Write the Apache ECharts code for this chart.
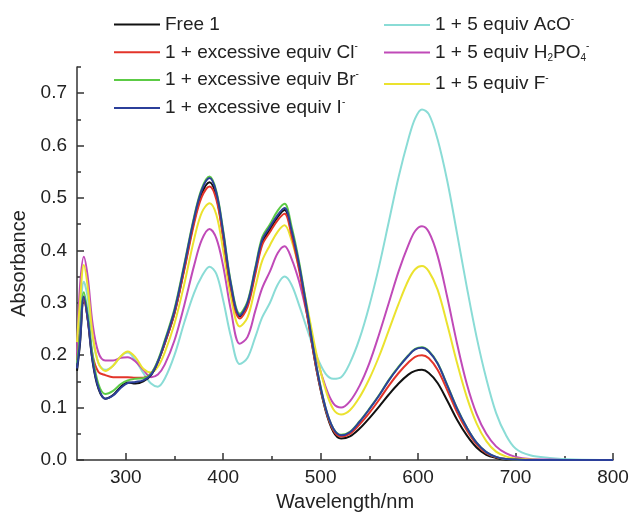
<!DOCTYPE html>
<html>
<head>
<meta charset="utf-8">
<title>Absorbance spectra</title>
<script src="https://cdn.jsdelivr.net/npm/echarts@6/dist/echarts.min.js"></script>
<style>
  html, body { margin: 0; padding: 0; background: #fff; }
  #main { width: 632px; height: 517px; }
</style>
</head>
<body>
<div id="main"></div>
<script>
// wavelengths (nm) shared by every spectrum
var wl = [250, 253, 257, 261, 266, 272, 279, 287, 295, 302,
  310, 318, 326, 333, 340, 350, 360, 370, 378, 386,
  393, 400, 408, 417, 425, 433, 440, 448, 456, 463,
  470, 478, 487, 496, 505, 513, 521, 530, 540, 550,
  560, 570, 580, 590, 597, 604, 611, 620, 630, 640,
  650, 660, 670, 680, 690, 700, 715, 735, 760, 800];

var free1 = [0.17, 0.22, 0.31, 0.268, 0.188, 0.136, 0.117, 0.124, 0.14, 0.148,
  0.146, 0.15, 0.162, 0.187, 0.222, 0.28, 0.365, 0.455, 0.508, 0.53,
  0.503, 0.428, 0.33, 0.274, 0.297, 0.36, 0.415, 0.44, 0.464, 0.477,
  0.437, 0.368, 0.27, 0.17, 0.095, 0.054, 0.041, 0.045, 0.06, 0.08,
  0.102, 0.125, 0.146, 0.163, 0.17, 0.172, 0.166, 0.147, 0.113, 0.077,
  0.047, 0.024, 0.01, 0.004, 0.001, 0, 0, 0, 0, 0];

var withCl = [0.19, 0.24, 0.31, 0.27, 0.2, 0.168, 0.162, 0.158, 0.158, 0.158,
  0.157, 0.157, 0.165, 0.188, 0.222, 0.28, 0.362, 0.45, 0.502, 0.522,
  0.497, 0.425, 0.328, 0.27, 0.292, 0.355, 0.41, 0.435, 0.458, 0.47,
  0.43, 0.362, 0.267, 0.17, 0.097, 0.057, 0.045, 0.05, 0.068, 0.09,
  0.115, 0.142, 0.166, 0.186, 0.197, 0.2, 0.194, 0.172, 0.133, 0.091,
  0.057, 0.03, 0.013, 0.005, 0.002, 0.001, 0, 0, 0, 0];

var withBr = [0.185, 0.24, 0.32, 0.28, 0.2, 0.145, 0.126, 0.132, 0.145, 0.152,
  0.155, 0.156, 0.165, 0.19, 0.228, 0.288, 0.373, 0.463, 0.518, 0.541,
  0.513, 0.438, 0.338, 0.279, 0.303, 0.368, 0.425, 0.45, 0.476, 0.489,
  0.447, 0.377, 0.278, 0.177, 0.1, 0.06, 0.048, 0.054, 0.074, 0.098,
  0.124, 0.153, 0.178, 0.2, 0.212, 0.215, 0.208, 0.185, 0.143, 0.099,
  0.062, 0.033, 0.015, 0.006, 0.002, 0.001, 0, 0, 0, 0];

var withI = [0.175, 0.225, 0.312, 0.27, 0.19, 0.138, 0.117, 0.123, 0.138, 0.147,
  0.149, 0.152, 0.163, 0.188, 0.225, 0.285, 0.37, 0.46, 0.515, 0.538,
  0.51, 0.435, 0.335, 0.276, 0.3, 0.365, 0.42, 0.445, 0.468, 0.481,
  0.44, 0.372, 0.275, 0.175, 0.1, 0.06, 0.047, 0.053, 0.073, 0.097,
  0.123, 0.152, 0.177, 0.199, 0.211, 0.214, 0.207, 0.184, 0.142, 0.098,
  0.062, 0.033, 0.015, 0.006, 0.002, 0.001, 0, 0, 0, 0];

var withAcO = [0.185, 0.27, 0.34, 0.31, 0.235, 0.185, 0.172, 0.18, 0.198, 0.205,
  0.19, 0.166, 0.146, 0.14, 0.155, 0.2, 0.262, 0.318, 0.35, 0.369,
  0.355, 0.305, 0.235, 0.183, 0.195, 0.235, 0.272, 0.3, 0.335, 0.35,
  0.335, 0.295, 0.245, 0.198, 0.165, 0.155, 0.158, 0.185, 0.232, 0.295,
  0.37, 0.455, 0.54, 0.612, 0.652, 0.669, 0.66, 0.612, 0.532, 0.432,
  0.33, 0.235, 0.155, 0.09, 0.048, 0.022, 0.009, 0.004, 0.001, 0];

var withH2PO4 = [0.2, 0.33, 0.388, 0.35, 0.26, 0.205, 0.19, 0.19, 0.195, 0.196,
  0.188, 0.172, 0.158, 0.163, 0.182, 0.228, 0.295, 0.37, 0.42, 0.441,
  0.423, 0.37, 0.285, 0.222, 0.235, 0.285, 0.328, 0.36, 0.395, 0.408,
  0.385, 0.34, 0.27, 0.195, 0.14, 0.108, 0.1, 0.112, 0.142, 0.185,
  0.24, 0.3, 0.36, 0.41, 0.437, 0.446, 0.435, 0.39, 0.31, 0.222,
  0.145, 0.088, 0.05, 0.026, 0.013, 0.006, 0.002, 0.001, 0, 0];

var withF = [0.225, 0.3, 0.372, 0.33, 0.24, 0.185, 0.17, 0.18, 0.198, 0.207,
  0.196, 0.174, 0.167, 0.178, 0.205, 0.26, 0.335, 0.42, 0.472, 0.49,
  0.468, 0.4, 0.31, 0.255, 0.272, 0.33, 0.38, 0.41, 0.436, 0.448,
  0.42, 0.365, 0.285, 0.2, 0.135, 0.097, 0.087, 0.095, 0.12, 0.155,
  0.198, 0.248, 0.298, 0.343, 0.364, 0.37, 0.36, 0.325, 0.258, 0.185,
  0.12, 0.07, 0.036, 0.016, 0.007, 0.003, 0.001, 0, 0, 0];

var xMajor = [300, 400, 500, 600, 700, 800];
var xMinor = [350, 450, 550, 650, 750];
var yMajor = [0, 0.1, 0.2, 0.3, 0.4, 0.5, 0.6, 0.7];
var yMinor = [0.05, 0.15, 0.25, 0.35, 0.45, 0.55, 0.65, 0.75];

// legend labels with rich-text super/subscripts
var labels = {
  'Free 1': '{t|Free 1}',
  'Cl': '{t|1 + excessive equiv Cl}{sup|-}',
  'Br': '{t|1 + excessive equiv Br}{sup|-}',
  'I': '{t|1 + excessive equiv I}{sup|-}',
  'AcO': '{t|1 + 5 equiv AcO}{sup|-}',
  'H2PO4': '{t|1 + 5 equiv H}{sub|2}{t|PO}{sub|4}{sup|-}',
  'F': '{t|1 + 5 equiv F}{sup|-}'
};

var font = 'Liberation Sans, Arial, sans-serif';

function pts(vals) {
  return wl.map(function (w, i) { return [w, vals[i]]; });
}

var chart = echarts.init(document.getElementById('main'));

var legendText = {
  fontFamily: font,
  color: '#222',
  rich: {
    t: { fontSize: 19, fontFamily: font, color: '#222', lineHeight: 22 },
    sup: { fontSize: 10, fontFamily: font, color: '#222', lineHeight: 11, verticalAlign: 'top' },
    sub: { fontSize: 10, fontFamily: font, color: '#222', lineHeight: 11, verticalAlign: 'bottom' }
  }
};

function mkLegend(left, top, names, gap) {
  return {
    orient: 'vertical',
    left: left,
    top: top,
    itemWidth: 46,
    itemHeight: 14,
    itemGap: gap,
    padding: 0,
    data: names,
    itemStyle: { opacity: 0 },
    formatter: function (n) { return labels[n]; },
    textStyle: legendText
  };
}

function mkSeries(name, vals, color) {
  return {
    name: name,
    type: 'line',
    data: pts(vals),
    smooth: 0.35,
    symbol: 'none',
    color: color,
    lineStyle: { width: 2, color: color }
  };
}

var axisBase = {
  type: 'value',
  axisLine: { show: true, lineStyle: { color: '#333', width: 1.5 } },
  splitLine: { show: false }
};

var option = {
  animation: false,
  backgroundColor: '#fff',
  grid: { left: 77, right: 19, top: 67, bottom: 54 },
  legend: [
    mkLegend(113, 15, ['Free 1', 'Cl', 'Br', 'I'], 7.3),
    mkLegend(383, 14, ['AcO', 'H2PO4'], 7),
    mkLegend(383, 73, ['F'], 6)
  ],
  xAxis: [
    Object.assign({}, axisBase, {
      min: 250, max: 800,
      name: 'Wavelength/nm',
      nameLocation: 'middle',
      nameGap: 32,
      nameTextStyle: { fontFamily: font, fontSize: 20, color: '#222' },
      axisTick: { inside: true, length: 7, customValues: xMajor, lineStyle: { color: '#333', width: 1.5 } },
      axisLabel: { customValues: xMajor, fontFamily: font, fontSize: 19, color: '#222', margin: 8 }
    }),
    Object.assign({}, axisBase, {
      min: 250, max: 800, position: 'bottom',
      axisLine: { show: false },
      axisTick: { inside: true, length: 4, customValues: xMinor, lineStyle: { color: '#333', width: 1.5 } },
      axisLabel: { show: false }
    })
  ],
  yAxis: [
    Object.assign({}, axisBase, {
      min: 0, max: 0.75,
      name: 'Absorbance',
      nameLocation: 'middle',
      nameGap: 45,
      nameTextStyle: { fontFamily: font, fontSize: 20, color: '#222' },
      axisTick: { inside: true, length: 7, customValues: yMajor, lineStyle: { color: '#333', width: 1.5 } },
      axisLabel: {
        customValues: yMajor, fontFamily: font, fontSize: 19, color: '#222', margin: 10,
        formatter: function (v) { return v.toFixed(1); }
      }
    }),
    Object.assign({}, axisBase, {
      min: 0, max: 0.75, position: 'left',
      axisLine: { show: false },
      axisTick: { inside: true, length: 4, customValues: yMinor, lineStyle: { color: '#333', width: 1.5 } },
      axisLabel: { show: false }
    })
  ],
  series: [
    mkSeries('AcO', withAcO, '#8adcd6'),
    mkSeries('H2PO4', withH2PO4, '#c04ab8'),
    mkSeries('F', withF, '#ebe22e'),
    mkSeries('Free 1', free1, '#111111'),
    mkSeries('Cl', withCl, '#e3342a'),
    mkSeries('Br', withBr, '#5ccb45'),
    mkSeries('I', withI, '#2b3f9a')
  ]
};

chart.setOption(option);
</script>
</body>
</html>
